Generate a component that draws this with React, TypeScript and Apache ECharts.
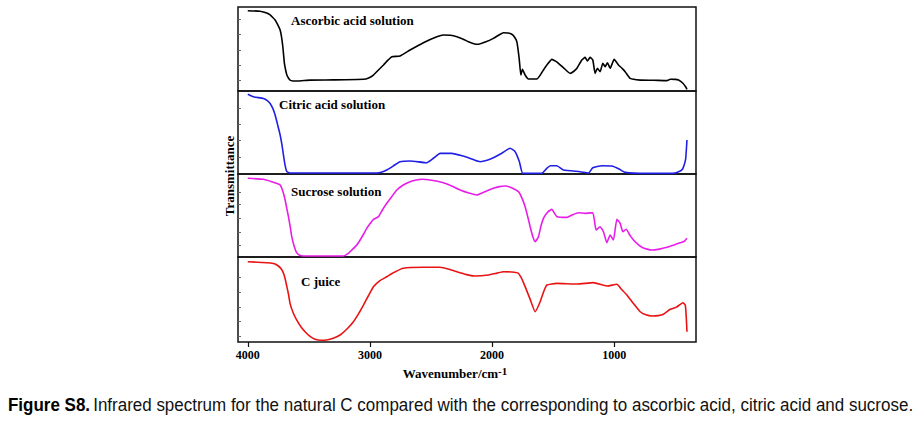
import React, { useEffect, useRef } from "react";
import * as echarts from "echarts";

const xTicks = [4000, 3000, 2000, 1000];

const ascorbic: [number, number][] = [
  [4000, 95.6], [3900, 95], [3872, 94], [3840, 92.5], [3817, 90.5], [3795, 87.5], [3776, 84.5],
  [3755, 79], [3735, 72.6], [3722, 63], [3713, 52.7], [3706, 42], [3700, 33], [3690, 25],
  [3680, 19], [3667, 15.5], [3654, 13], [3630, 12], [3600, 11.9], [3490, 13], [3300, 13.2],
  [3053, 13.9], [3010, 15.5], [2971, 19], [2930, 25], [2889, 31], [2850, 37], [2820, 40.8],
  [2753, 41.7], [2671, 48.8], [2562, 57.5], [2452, 64.6], [2398, 66.7], [2340, 66.3],
  [2288, 64.6], [2240, 62], [2193, 58.7], [2150, 56.3], [2111, 55.6], [2050, 58.5], [1989, 62.7],
  [1940, 67], [1907, 69.4], [1870, 69], [1838, 67.5], [1815, 64], [1797, 58.7],
  [1778, 38.9], [1764, 19], [1751, 25.8], [1729, 19], [1702, 14.3], [1633, 14.3], [1605, 19],
  [1579, 25], [1545, 32], [1510, 37.7], [1480, 35.5], [1456, 33], [1410, 27], [1360, 21],
  [1330, 23.5], [1305, 27], [1265, 36.9], [1238, 40], [1219, 35.7],
  [1197, 40], [1175, 36.9], [1156, 21], [1137, 27], [1115, 23], [1093, 33], [1074, 29],
  [1055, 33.7], [1033, 27], [1000, 37.7], [965, 31], [935, 27], [910, 23], [869, 15], [787, 13],
  [680, 12.8], [568, 12.3], [541, 13.9], [500, 13.8], [473, 13], [437, 9.2], [415, 5], [404, 2],
];

const citric: [number, number][] = [
  [4000, 96], [3954, 93], [3872, 91], [3840, 88.5], [3817, 85], [3795, 79], [3776, 71],
  [3755, 59], [3735, 47], [3720, 35], [3708, 22.9], [3695, 11], [3680, 2.8], [3654, 1.2],
  [2943, 1.2], [2900, 2.5], [2862, 4.8], [2800, 10.5], [2753, 14.8], [2671, 15.7], [2534, 13.6],
  [2480, 19], [2425, 24.9], [2330, 24.9], [2260, 22.5], [2193, 19.6], [2140, 16.5], [2098, 14.8],
  [2040, 16.5], [1989, 19.6], [1920, 25], [1852, 31], [1811, 26.9],
  [1776, 14.8], [1748, 0.8], [1592, 0.8], [1550, 7], [1524, 10], [1469, 10], [1415, 4.8],
  [1278, 2.8], [1210, 1.2], [1175, 7.6], [1101, 10], [1019, 9.6], [960, 6], [910, 2], [732, 0.8],
  [514, 0.8], [459, 3.6], [440, 6], [427, 10.8], [415, 18], [410, 26.9], [404, 41],
];

const sucrose: [number, number][] = [
  [4000, 94.8], [3872, 93.6], [3803, 90.7], [3760, 88.5], [3735, 86.7], [3712, 79], [3694, 68.7],
  [3680, 58], [3667, 48.6], [3652, 36], [3640, 24.5], [3620, 13], [3600, 5.2], [3575, 2],
  [3545, 1.2], [3217, 1.2], [3180, 4], [3148, 8.4], [3110, 14], [3080, 20.5], [3050, 28],
  [3026, 34.5], [2995, 41], [2971, 45.4], [2930, 48.6], [2900, 56], [2862, 64.7], [2820, 73],
  [2780, 80.7], [2730, 86.5], [2671, 90.7], [2620, 92.8], [2575, 93.6], [2507, 92.8], [2398, 89.5],
  [2330, 85.5], [2261, 80.7], [2190, 77], [2125, 74.7], [2060, 78.5], [1989, 82.8], [1940, 84.8],
  [1893, 85.5], [1840, 83.5], [1784, 78.7], [1755, 71], [1729, 60.6], [1705, 47], [1688, 36.5],
  [1665, 24], [1647, 18.4], [1620, 24.5], [1600, 37], [1579, 46.6], [1545, 54], [1510, 57.5],
  [1490, 53], [1469, 48.6], [1387, 47.8], [1340, 51], [1292, 53.4],
  [1238, 52.6], [1175, 53.4], [1148, 32.5], [1115, 36.5], [1088, 30.5], [1060, 17.2], [1033, 26.5],
  [1006, 20.5], [978, 45.4], [951, 40.6], [929, 30.5], [902, 33.4], [870, 26], [842, 20.5],
  [800, 14.5], [773, 11.7], [730, 9.5], [691, 8.4], [630, 9.5], [568, 11.7], [510, 14.5],
  [459, 17.2], [425, 19], [404, 22.5],
];

const cJuice: [number, number][] = [
  [4000, 94.5], [3844, 93.3], [3790, 92.3], [3762, 90.6], [3735, 87.5], [3713, 82.7], [3695, 75],
  [3680, 65.1], [3665, 55], [3654, 45.5], [3630, 35], [3600, 25.9], [3565, 18], [3531, 12.1],
  [3490, 6.5], [3449, 3.1], [3400, 2], [3353, 2.4], [3300, 4.5], [3244, 8.2], [3190, 15],
  [3135, 23.9], [3090, 34], [3053, 43.5], [3010, 55], [2971, 65.1], [2920, 72], [2862, 76.8],
  [2800, 82], [2726, 86.7], [2562, 87.9], [2425, 87.9], [2340, 85], [2261, 81.5], [2200, 79],
  [2139, 77.6], [2029, 78.8], [1960, 81], [1907, 82.7], [1840, 82.3], [1784, 80.8], [1755, 74],
  [1729, 65.1], [1690, 51], [1647, 35.6], [1606, 47.4], [1575, 60], [1551, 67], [1469, 69],
  [1305, 68.2], [1170, 69.8], [1060, 65.9], [978, 67.9], [940, 62], [896, 55.3], [840, 45],
  [787, 35.6], [740, 32], [691, 30.6], [640, 31], [596, 32.6], [541, 38.5], [490, 41],
  [437, 46.2], [418, 43.5], [410, 30], [404, 12.1],
];

const panelNames = ["Ascorbic acid solution", "Citric acid solution", "Sucrose solution", "C juice"];
const panelColors = ["#000000", "#1f1fe6", "#e81ee8", "#e81414"];
const panelData = [ascorbic, citric, sucrose, cJuice];
const yTickValues = [
  [13, 31, 49, 67, 85],
  [20, 41, 60, 79],
  [14, 30, 47, 63, 78],
  [7, 25, 41, 59, 76],
];

const panelTops = [7, 91, 174, 257];
const panelHeights = [84, 83, 83, 85];
const labelPos = [
  [291, 22],
  [279, 106],
  [291, 193],
  [301, 283],
];

export default function App() {
  const ref = useRef<HTMLDivElement>(null);
  useEffect(() => {
    document.body.style.margin = "0";
    if (!ref.current) return;
    const chart = echarts.init(ref.current, null, { renderer: "svg" });
    const serif = "Liberation Serif, Times New Roman, serif";
    const grids = panelTops.map((t, i) => ({
      left: 238,
      right: 228,
      top: t,
      height: panelHeights[i],
      show: true,
      borderColor: "#111",
      borderWidth: 1.5,
      backgroundColor: "transparent",
    }));
    const last = panelTops.length - 1;
    const xAxes = panelTops.map((_, i) => ({
      type: "value" as const,
      gridIndex: i,
      min: 330,
      max: 4080,
      inverse: true,
      splitLine: { show: false },
      axisLine: { show: false },
      axisTick:
        i === last
          ? { show: true, customValues: xTicks, length: 5, inside: false, lineStyle: { color: "#111", width: 1.2 } }
          : { show: false },
      axisLabel:
        i === last
          ? {
              show: true,
              customValues: xTicks,
              formatter: (v: number) => String(v),
              color: "#000",
              fontFamily: serif,
              fontWeight: "bold",
              fontSize: 12,
              margin: 7,
            }
          : { show: false },
    }));
    const yAxes = panelTops.map((_, i) => ({
      type: "value" as const,
      gridIndex: i,
      min: 0,
      max: 100,
      splitLine: { show: false },
      axisLine: { show: false },
      axisLabel: { show: false },
      axisTick: { show: true, inside: true, length: 3, customValues: yTickValues[i], lineStyle: { color: "#666", width: 1 } },
    }));
    const series = panelData.map((d, i) => ({
      type: "line" as const,
      xAxisIndex: i,
      yAxisIndex: i,
      data: d,
      showSymbol: false,
      smooth: 0.15,
      lineStyle: { color: panelColors[i], width: 1.6 },
      itemStyle: { color: panelColors[i] },
    }));
    const graphics: any[] = panelNames.map((n, i) => ({
      type: "text",
      left: labelPos[i][0],
      top: labelPos[i][1] - 8,
      style: { text: n, fontFamily: serif, fontWeight: "bold", fontSize: 13, fill: "#000" },
    }));
    graphics.push({
      type: "text",
      x: 229,
      y: 176,
      rotation: Math.PI / 2,
      style: {
        text: "Transmittance",
        fontFamily: serif,
        fontWeight: "bold",
        fontSize: 13,
        fill: "#000",
        align: "center",
        verticalAlign: "middle",
      },
    });
    graphics.push({
      type: "text",
      x: 455,
      y: 373,
      style: {
        text: "{a|Wavenumber/cm}{b|-1}",
        align: "center",
        verticalAlign: "middle",
        rich: {
          a: { fontFamily: serif, fontWeight: "bold", fontSize: 13, fill: "#000" },
          b: { fontFamily: serif, fontWeight: "bold", fontSize: 11, fill: "#000", padding: [0, 0, 5, 0] },
        },
      },
    });
    graphics.push({
      type: "text",
      x: 8,
      y: 405,
      scaleX: 0.918,
      style: {
        text: "{b|Figure S8.} {r|Infrared spectrum for the natural C compared with the corresponding to ascorbic acid, citric acid and sucrose.}",
        verticalAlign: "middle",
        rich: {
          b: { fontFamily: "Liberation Sans, Arial, sans-serif", fontWeight: "bold", fontSize: 18.5, fill: "#000" },
          r: { fontFamily: "Liberation Sans, Arial, sans-serif", fontSize: 18.5, fill: "#111" },
        },
      },
    });
    chart.setOption({
      animation: false,
      backgroundColor: "#fff",
      grid: grids,
      xAxis: xAxes,
      yAxis: yAxes,
      series,
      graphic: graphics,
    });
    return () => chart.dispose();
  }, []);
  return <div ref={ref} style={{ position: "absolute", left: 0, top: 0, width: 924, height: 428 }} />;
}
